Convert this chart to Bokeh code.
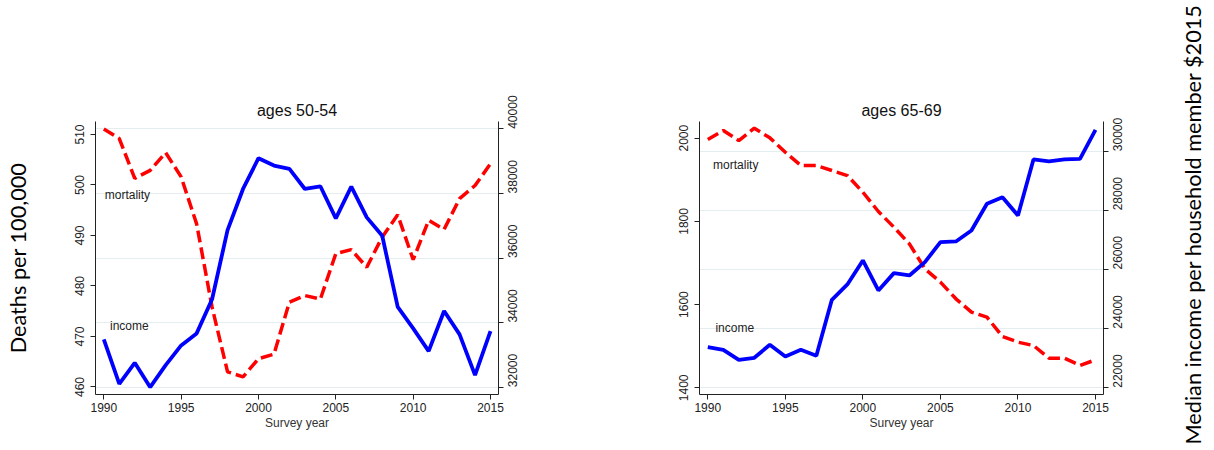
import math
from bokeh.plotting import figure
from bokeh.models import Range1d, LinearAxis, FixedTicker, Grid, Title
from bokeh.layouts import row
from bokeh.embed import file_html
from bokeh.resources import INLINE
from bokeh.core.properties import value

# ---------------- data ----------------
years = [1990, 1991, 1992, 1993, 1994, 1995, 1996, 1997, 1998, 1999, 2000, 2001, 2002,
         2003, 2004, 2005, 2006, 2007, 2008, 2009, 2010, 2011, 2012, 2013, 2014, 2015]

mort_50_54 = [511.1, 509.2, 501.3, 502.9, 506.4, 501.6, 492.3, 475.8, 463.0, 462.0, 465.6, 466.5, 476.8,
              478.1, 477.4, 486.4, 487.2, 483.7, 489.7, 494.1, 485.2, 493.0, 491.2, 497.3, 499.9, 504.2]
inc_50_54 = [33480, 32103, 32755, 32000, 32683, 33294, 33666, 34722, 36864, 38137, 39089, 38862, 38758,
             38137, 38220, 37226, 38210, 37258, 36688, 34484, 33822, 33118, 34360, 33635, 32373, 33739]

mort_65_69 = [1996.7, 2018.4, 1994.3, 2024.0, 2000.8, 1966.3, 1934.3, 1934.3, 1922.3, 1910.2, 1870.2, 1823.7, 1786.1,
              1746.0, 1686.0, 1653.9, 1613.9, 1581.8, 1569.8, 1523.4, 1509.7, 1501.7, 1471.3, 1471.3, 1453.7, 1467.3]
inc_65_69 = [23375, 23285, 22947, 23014, 23454, 23059, 23285, 23082, 24975, 25494, 26305, 25291, 25877,
             25798, 26249, 26925, 26948, 27319, 28221, 28446, 27827, 29720, 29652, 29720, 29742, 30723]

x_ticks = [1990, 1995, 2000, 2005, 2010, 2015]
mort_ticks_50_54 = [460, 470, 480, 490, 500, 510]
inc_ticks_50_54 = [32000, 34000, 36000, 38000, 40000]
mort_ticks_65_69 = [1400, 1600, 1800, 2000]
inc_ticks_65_69 = [22000, 24000, 26000, 28000, 30000]

titles = ["ages 50-54", "ages 65-69"]
x_label = "Survey year"
series_labels = ["mortality", "income"]
left_title = "Deaths per 100,000"
right_title = "Median income per household member $2015"

# ---------------- style ----------------
FONT = "Liberation Sans"
OUTER_FONT = "Lato"
OUTER_SIZE = "21.7px"
H = 446
AX = "#222222"
GRID = "#e4eef0"


def style_axis(ax, orient=None, standoff=3):
    ax.axis_line_color = AX
    ax.axis_line_width = 1
    ax.major_tick_line_color = AX
    ax.major_tick_out = 5
    ax.major_tick_in = 0
    ax.minor_tick_line_color = None
    ax.major_label_text_font = FONT
    ax.major_label_text_font_size = "12px"
    ax.major_label_text_color = AX
    ax.major_label_standoff = standoff
    if orient is not None:
        ax.major_label_orientation = orient


def panel(title, mort, inc, x_rng, mort_rng, inc_rng, mort_ticks, inc_ticks, width, borders,
          mort_lbl_pos, inc_lbl_pos):
    p = figure(width=width, height=H, output_backend="svg", toolbar_location=None,
               x_range=Range1d(*x_rng), y_range=Range1d(*mort_rng), title=title,
               min_border_left=borders[0], min_border_right=borders[1],
               min_border_top=borders[2], min_border_bottom=borders[3])
    p.extra_y_ranges = {"inc": Range1d(*inc_rng)}
    p.outline_line_color = None
    p.background_fill_color = "white"
    p.border_fill_color = "white"
    p.xgrid.visible = False
    p.ygrid.visible = False

    p.title.text_font = FONT
    p.title.text_font_size = "16px"
    p.title.text_font_style = "normal"
    p.title.text_color = "#111111"
    p.title.align = "center"
    p.title.standoff = 6

    p.xaxis.ticker = FixedTicker(ticks=x_ticks)
    p.xaxis.axis_label = x_label
    p.xaxis.axis_label_text_font = FONT
    p.xaxis.axis_label_text_font_size = "12px"
    p.xaxis.axis_label_text_font_style = "normal"
    p.xaxis.axis_label_text_color = "#333333"
    p.xaxis.axis_label_standoff = 1
    style_axis(p.xaxis[0], standoff=3)

    p.yaxis.ticker = FixedTicker(ticks=mort_ticks)
    style_axis(p.yaxis[0], orient="vertical", standoff=6)

    rax = LinearAxis(y_range_name="inc", ticker=FixedTicker(ticks=inc_ticks))
    style_axis(rax, orient=math.pi / 2, standoff=9)
    p.add_layout(rax, "right")

    g = Grid(dimension=1, ticker=FixedTicker(ticks=inc_ticks), y_range_name="inc",
             grid_line_color=GRID, grid_line_width=1)
    p.add_layout(g)

    p.line(years, mort, line_color="#ff0000", line_width=3.5, line_dash="12 5")
    p.line(years, inc, line_color="#0000ff", line_width=3.8, y_range_name="inc")

    p.text(x=[mort_lbl_pos[0]], y=[mort_lbl_pos[1]], text=[series_labels[0]],
           text_font=value(FONT), text_font_size="12px", text_color="#222222",
           text_baseline="middle", text_align="left")
    p.text(x=[inc_lbl_pos[0]], y=[inc_lbl_pos[1]], text=[series_labels[1]],
           text_font=value(FONT), text_font_size="12px", text_color="#222222",
           text_baseline="middle", text_align="left")
    return p


p1 = panel(titles[0], mort_50_54, inc_50_54, (1989.463, 2015.517), (458.51, 512.57), (31774, 40226),
           mort_ticks_50_54, inc_ticks_50_54, 600, (95, 102, 121, 52),
           (1990.06, 498.06), (1990.4, 472.0))
p2 = panel(titles[1], mort_65_69, inc_65_69, (1989.465, 2015.516), (1383.9, 2040.1), (21773, 31004),
           mort_ticks_65_69, inc_ticks_65_69, 566, (99, 63, 121, 52),
           (1990.34, 1934.4), (1990.49, 1544))

# outer left title: axis label of the left panel's mortality axis
p1.yaxis[0].axis_label = left_title
p1.yaxis[0].axis_label_text_font = OUTER_FONT
p1.yaxis[0].axis_label_text_font_size = OUTER_SIZE
p1.yaxis[0].axis_label_text_font_style = "normal"
p1.yaxis[0].axis_label_text_color = "#000000"
p1.yaxis[0].axis_label_standoff = 42

# outer right title: a side title of a narrow figure at the right edge
fr = figure(width=46, height=H, output_backend="svg", toolbar_location=None,
            x_range=Range1d(0, 1), y_range=Range1d(0, 1),
            min_border_left=40, min_border_right=2, min_border_top=121, min_border_bottom=52,
            x_axis_type=None, y_axis_type=None)
fr.grid.visible = False
fr.outline_line_color = None
fr.title.visible = False
fr.add_layout(Title(text=right_title, align="left", offset=-50, standoff=0,
                    text_font=OUTER_FONT, text_font_size=OUTER_SIZE, text_font_style="normal",
                    text_color="#000000", vertical_align="middle"), "left")

layout = row(p1, p2, fr)
open("out.html", "w").write(file_html(layout, INLINE))
